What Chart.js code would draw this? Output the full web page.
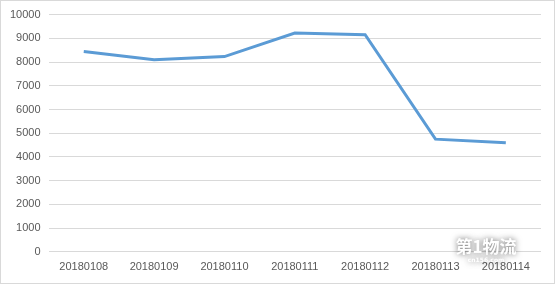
<!DOCTYPE html>
<html>
  <head>
    <title>Line Chart</title>
    <script src="https://cdn.jsdelivr.net/npm/chart.js"></script>
    <style>
      html,
      body {
        margin: 0;
        padding: 0;
        background: #ffffff;
      }

      canvas {
        display: block;
      }
    </style>
  </head>
  <body>
    <canvas id="lineChart" width="555" height="284"></canvas>

    <script>
      // Data
      const dates = [
        "20180108",
        "20180109",
        "20180110",
        "20180111",
        "20180112",
        "20180113",
        "20180114",
      ];
      const values = [8440, 8100, 8230, 9220, 9150, 4750, 4600];
      const yTicks = [0, 1000, 2000, 3000, 4000, 5000, 6000, 7000, 8000, 9000, 10000];

      // White background, outer frame and the watermark text
      const framePlugin = {
        id: "frame",
        beforeDraw(chart) {
          const c = chart.ctx;
          c.save();
          c.fillStyle = "#ffffff";
          c.fillRect(0, 0, chart.width, chart.height);
          c.restore();
        },
        afterDraw(chart) {
          const c = chart.ctx;
          c.save();
          c.strokeStyle = "#d9d9d9";
          c.lineWidth = 1;
          c.strokeRect(0.5, 0.5, chart.width - 1, chart.height - 1);

          c.shadowColor = "rgba(0,0,0,0.6)";
          c.shadowBlur = 6;
          c.fillStyle = "#ffffff";
          c.font = "bold 17px 'Noto Sans CJK SC'";
          c.textAlign = "center";
          c.textBaseline = "middle";
          c.fillText("第1物流", 486, 247);
          c.font = "bold 6px 'DejaVu Sans'";
          c.fillText("cn156.com", 486, 260);
          c.restore();
        },
      };

      function drawLineChart() {
        const ctx = document.getElementById("lineChart").getContext("2d");
        new Chart(ctx, {
          type: "line",
          data: {
            labels: dates,
            datasets: [
              {
                data: values,
                borderColor: "#5b9bd5",
                borderWidth: 3,
                pointRadius: 0,
                tension: 0,
                fill: false,
              },
            ],
          },
          options: {
            responsive: false,
            animation: false,
            layout: {
              padding: { left: 2, right: 14, top: 9, bottom: 1 },
            },
            plugins: {
              legend: { display: false },
              tooltip: { enabled: false },
            },
            scales: {
              x: {
                offset: true,
                grid: { display: false, drawTicks: false },
                border: { display: false },
                ticks: {
                  color: "#595959",
                  font: { family: "Liberation Sans", size: 11 },
                  padding: 9,
                  maxRotation: 0,
                  autoSkip: false,
                },
              },
              y: {
                min: 0,
                max: 10000,
                afterBuildTicks(axis) {
                  axis.ticks = yTicks.map((v) => ({ value: v }));
                },
                grid: { color: "#d9d9d9", drawTicks: false },
                border: { display: false },
                ticks: {
                  color: "#595959",
                  font: { family: "Liberation Sans", size: 11 },
                  padding: 8,
                  callback: (v) => String(v),
                },
              },
            },
          },
          plugins: [framePlugin],
        });
      }

      drawLineChart();
    </script>
  </body>
</html>
